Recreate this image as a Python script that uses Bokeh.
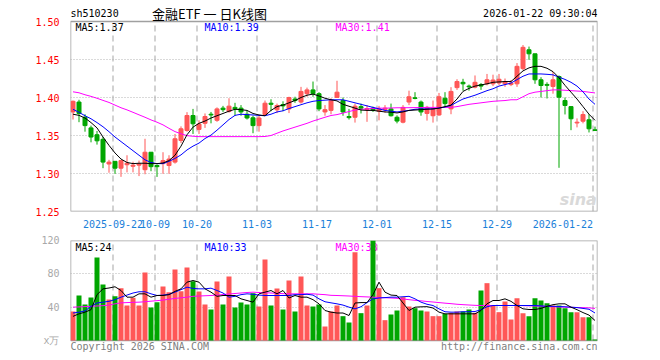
from bokeh.plotting import figure
from bokeh.layouts import column
from bokeh.models import FixedTicker, ColumnDataSource, Range1d, CustomJSTickFormatter, NumeralTickFormatter
from bokeh.embed import file_html
from bokeh.resources import INLINE
from bokeh.core.properties import value

# ---------------- data ----------------
code = "sh510230"
title_text = "金融ETF 一 日K线图"
stamp = "2026-01-22 09:30:04"
copyright_text = "Copyright 2026 SINA.COM"
url_text = "http://finance.sina.com.cn"

opens = [1.381,1.394,1.374,1.360,1.351,1.345,1.3125,1.316,1.307,1.3115,
 1.3095,1.311,1.305,1.328,1.3105,1.313,1.3105,1.315,1.3434,1.3566,
 1.3763,1.358,1.366,1.378,1.370,1.386,1.3816,1.387,1.386,1.378,
 1.3733,1.363,1.3776,1.3925,1.3838,1.3907,1.385,1.398,1.394,1.405,
 1.410,1.405,1.381,1.383,1.400,1.396,1.375,1.374,1.388,1.384,
 1.386,1.382,1.384,1.385,1.374,1.3675,1.394,1.3996,1.394,1.379,
 1.376,1.377,1.399,1.385,1.413,1.420,1.415,1.4136,1.417,1.418,
 1.418,1.419,1.418,1.417,1.418,1.438,1.4628,1.4575,1.4233,1.4172,
 1.4145,1.4276,1.396,1.388,1.3665,1.3688,1.3707,1.3575]
highs = [1.396,1.397,1.378,1.363,1.356,1.348,1.318,1.316,1.318,1.324,
 1.3155,1.317,1.3457,1.328,1.312,1.328,1.324,1.352,1.362,1.3807,
 1.385,1.370,1.379,1.381,1.387,1.389,1.399,1.393,1.390,1.383,
 1.376,1.376,1.396,1.3977,1.392,1.395,1.401,1.401,1.414,1.413,
 1.421,1.407,1.390,1.399,1.422,1.400,1.385,1.392,1.392,1.390,
 1.388,1.389,1.390,1.392,1.3765,1.390,1.409,1.407,1.396,1.389,
 1.396,1.406,1.407,1.4136,1.424,1.4246,1.417,1.429,1.419,1.431,
 1.430,1.431,1.425,1.423,1.4453,1.469,1.467,1.4575,1.4267,1.420,
 1.434,1.429,1.400,1.388,1.3725,1.382,1.378,1.3617]
lows = [1.371,1.3675,1.355,1.341,1.338,1.307,1.301,1.2995,1.2956,1.3015,
 1.3015,1.2966,1.299,1.303,1.2955,1.2996,1.2996,1.313,1.340,1.355,
 1.352,1.352,1.360,1.366,1.368,1.381,1.380,1.376,1.376,1.371,
 1.353,1.355,1.376,1.382,1.3795,1.382,1.3795,1.393,1.392,1.401,
 1.401,1.382,1.376,1.378,1.3996,1.376,1.371,1.367,1.379,1.368,
 1.381,1.370,1.380,1.375,1.366,1.366,1.390,1.3976,1.376,1.3696,
 1.367,1.376,1.387,1.378,1.410,1.409,1.409,1.412,1.410,1.416,
 1.415,1.416,1.414,1.415,1.414,1.436,1.4496,1.418,1.400,1.3987,
 1.405,1.3075,1.3777,1.357,1.3607,1.366,1.354,1.3566]
closes = [1.395,1.379,1.363,1.348,1.343,1.315,1.315,1.307,1.317,1.3135,
 1.311,1.3125,1.328,1.309,1.309,1.317,1.319,1.3457,1.3588,1.3763,
 1.3654,1.365,1.375,1.377,1.385,1.384,1.3886,1.385,1.381,1.373,
 1.363,1.373,1.3925,1.391,1.3895,1.389,1.400,1.396,1.408,1.410,
 1.405,1.385,1.384,1.396,1.407,1.381,1.3735,1.3886,1.386,1.3855,
 1.383,1.385,1.386,1.376,1.369,1.387,1.401,1.3987,1.381,1.387,
 1.385,1.401,1.392,1.408,1.421,1.418,1.414,1.420,1.415,1.4233,
 1.423,1.424,1.421,1.419,1.441,1.466,1.4575,1.4233,1.4158,1.416,
 1.4233,1.4004,1.3895,1.372,1.3675,1.3776,1.3588,1.3566]

ma5 = [1.378,1.3765,1.373,1.367,1.360,1.348,1.337,1.327,1.319,1.3145,
 1.313,1.3135,1.3135,1.313,1.313,1.3138,1.317,1.324,1.336,1.351,
 1.361,1.366,1.369,1.373,1.376,1.379,1.382,1.3845,1.384,1.383,
 1.379,1.377,1.376,1.383,1.388,1.390,1.393,1.396,1.400,1.403,
 1.4045,1.402,1.399,1.397,1.3955,1.391,1.3885,1.386,1.3835,1.383,
 1.383,1.382,1.381,1.3806,1.3797,1.381,1.383,1.3835,1.384,1.3845,
 1.385,1.386,1.388,1.390,1.398,1.408,1.412,1.415,1.4165,1.418,
 1.420,1.4205,1.421,1.421,1.428,1.435,1.439,1.441,1.441,1.4385,
 1.434,1.426,1.416,1.407,1.398,1.388,1.378,1.370]
ma10 = [1.3845,1.3805,1.376,1.372,1.367,1.3615,1.355,1.348,1.342,1.336,
 1.330,1.324,1.318,1.3145,1.313,1.313,1.316,1.3198,1.3245,1.331,
 1.336,1.340,1.346,1.3505,1.357,1.364,1.371,1.3765,1.378,1.3775,
 1.377,1.3765,1.376,1.378,1.381,1.3825,1.3855,1.388,1.3905,1.393,
 1.395,1.396,1.3965,1.397,1.397,1.397,1.395,1.393,1.391,1.389,
 1.387,1.385,1.383,1.382,1.381,1.382,1.383,1.3845,1.385,1.385,
 1.385,1.386,1.3875,1.3895,1.394,1.398,1.4005,1.403,1.406,1.409,
 1.4115,1.415,1.417,1.419,1.4235,1.428,1.431,1.431,1.431,1.4305,
 1.4298,1.4268,1.4238,1.420,1.415,1.4075,1.398,1.391]
ma30 = [1.4075,1.4062,1.4036,1.4015,1.399,1.3962,1.3935,1.390,1.3865,1.3837,
 1.3805,1.3772,1.374,1.3705,1.3675,1.364,1.3594,1.3551,1.3523,1.3498,
 1.349,1.3485,1.3485,1.3485,1.3485,1.3485,1.3485,1.3485,1.3485,1.3485,
 1.3485,1.3485,1.3487,1.350,1.353,1.356,1.3585,1.361,1.3635,1.366,
 1.369,1.3715,1.374,1.3763,1.3775,1.3795,1.3815,1.3835,1.3845,1.385,
 1.3855,1.386,1.386,1.3862,1.3865,1.3865,1.3866,1.3867,1.3868,1.387,
 1.387,1.387,1.387,1.387,1.388,1.3895,1.391,1.392,1.393,1.394,
 1.395,1.3955,1.396,1.397,1.397,1.401,1.405,1.407,1.408,1.409,
 1.410,1.410,1.4095,1.409,1.4085,1.408,1.407,1.406]

volumes = [34.8,54,43.2,51.6,99.6,67.2,49.2,53.2,62.8,42,
 51.2,42,81.6,39.6,46,64.8,58,85.2,59.2,87.6,
 71.2,58.8,43.2,37.2,70.8,43.2,76.8,39.6,45.6,43.2,
 56.8,40.8,97.2,42,62.4,37.2,72,34.8,76.8,42,
 40.8,43.2,16.8,34.8,42,29.2,21.6,106,32.8,42,
 124,62.8,24.4,31.2,36,52,40.8,38.8,36,34.8,
 29.2,29.2,32,33.2,34.8,34.8,37.2,33.2,60,68.8,
 42,34,46.8,25.2,50.8,32.8,29.2,50.8,48,44.8,
 42,42,38.8,34,34,28,28,1.2]
vma5 = [29,32,34,37,55,62,63,64.5,60,52,
 52,56,56,52,54,54,55,59,62,70,
 72,70,62,58,53,54,54,54,50,48,
 46,56,58,60,56,60,51,54,52,52,
 49,44,36,34,33,33,30,45,45.5,45.5,
 55,70,58,54.5,54,45,36,40,40.4,40.6,
 39,34,32,32,32,32,32,32,36,44,
 48,48,50,47,42,38,37.2,37.2,38.5,41,
 43,44,44,40,37,33.5,30.5,24]
vma10 = [33,34,35.5,41,45,46,47,49,52,54.5,
 57,58.5,58.5,56,54,54.5,55.5,58,61,64,
 62.5,62,62,62.8,60,57,52,53,55,56,
 55.5,54.5,54,54,54,54,54,55,55,55.5,
 54.5,50,46.5,45.2,44,42.5,40,38,40.5,45.5,
 50,51,51.5,52,52,52.5,53,50,46,43.5,
 42,38,34.5,34,34,34.5,34.5,34.8,37,40.5,
 42,42,42,42,42,42,42,42,41.5,41,
 41,40.8,40.5,40,39.5,38.5,37.5,33]
vma30 = [40,40.3,40.7,41,41.4,41.8,42.5,44,45.2,45.5,
 45.8,46,46.5,47.2,47.8,48.5,49.5,50.5,51.2,52,
 53,53.4,53.7,54,54.5,55.2,55.8,56.4,57,57.6,
 58,57.6,57.2,57,56.6,56.2,56,56,56,56,
 56,55.5,55,54.2,54,53.7,53.4,53,52.6,52.3,
 52,51.6,51.3,51,50.6,49.8,49,48.2,47.6,46.8,
 46.2,45.5,44.8,44.2,43.5,43,42.6,42.2,42,42,
 42,42,42,42,42,41.8,41.6,41.4,41.2,41,
 40.6,40.2,40,39.8,39.6,39.4,39.2,38.5]

date_ticks = [7, 14, 21, 31, 41, 51, 61, 71, 87]
date_labels = ["2025-09-22", "10-09", "10-20", "11-03", "11-17", "12-01", "12-15", "12-29", "2026-01-22"]
price_ticks = [1.25, 1.30, 1.35, 1.40, 1.45, 1.50]
price_grid = [1.30, 1.35, 1.40, 1.45]
vol_ticks = [0, 40, 80, 120]
vol_grid = [40, 80]
vol_unit_label = "x万"

# ---------------- style / layout ----------------
RED = "#ff5757"
GREEN = "#00a600"
GRID = "#b4b4b4"
BORDER = "#a0a0a0"
MONO = "DejaVu Sans Mono"
FS = "10px"

PX = 6.0                  # pixels per trading day
FRAME_W = 527
LEFT, RIGHT = 70, 63
W = LEFT + FRAME_W + RIGHT
x0 = -2.5 / PX
x1 = x0 + FRAME_W / PX

PLO, PHI = 1.25, 1.50
ppy = (PHI - PLO) / 190.0     # price units per pixel
HEAD = 21                     # pixels above the price box (header strip)
P_FH = 190 + HEAD
P_BOT = 21

VLO, VHI = 0, 120
vpy = (VHI - VLO) / 100.0     # volume units per pixel
FOOT = 20                     # pixels below the volume box (footer strip)
V_TOP = 8
V_FH = 100 + FOOT

n = len(closes)
idx = list(range(n))
colors = [RED if c >= o else GREEN for o, c in zip(opens, closes)]
grid_x = [t - 1.0 / 3.0 for t in date_ticks]
label_x = list(grid_x)
label_x[-1] = grid_x[-1] - (len(date_labels[-1]) * 6.02 / 2) / PX


def base_fig(height, top, bottom, yr, ylo, yhi):
    f = figure(width=W, height=height, x_range=Range1d(x0, x1), y_range=yr,
               output_backend="svg", toolbar_location=None,
               min_border_left=LEFT, min_border_right=RIGHT,
               min_border_top=top, min_border_bottom=bottom)
    f.outline_line_color = None
    f.background_fill_color = "white"
    f.border_fill_color = "white"
    f.xgrid.visible = False
    f.ygrid.grid_line_color = GRID
    f.ygrid.grid_line_dash = "1 2"
    f.yaxis.axis_line_color = None
    f.yaxis.major_tick_line_color = None
    f.yaxis.minor_tick_line_color = None
    f.yaxis.major_label_text_font = MONO
    f.yaxis.major_label_text_font_size = FS
    f.yaxis.major_label_standoff = 5
    # vertical dashed date lines
    f.segment(x0=grid_x, y0=[ylo] * len(grid_x), x1=grid_x, y1=[yhi] * len(grid_x),
              line_color=GRID, line_dash="6 4", line_width=1.2)
    # box border
    f.quad(left=[x0], right=[x1], bottom=[ylo], top=[yhi], fill_color=None,
           line_color=BORDER, line_width=1.5)
    return f


# ---------------- price panel ----------------
p1 = base_fig(P_FH + P_BOT, 0, P_BOT, Range1d(PLO, PHI + HEAD * ppy), PLO, PHI)
p1.ygrid.ticker = FixedTicker(ticks=price_grid)
p1.yaxis.ticker = FixedTicker(ticks=price_ticks)
p1.yaxis.formatter = NumeralTickFormatter(format="0.00")
p1.yaxis.major_label_text_color = "#ff0000"
p1.xaxis.ticker = FixedTicker(ticks=label_x)
p1.xaxis.formatter = CustomJSTickFormatter(args=dict(pos=label_x, labels=date_labels), code="""
let k = 0, d = 1e9;
for (let j = 0; j < pos.length; j++) { const dd = Math.abs(pos[j] - tick); if (dd < d) { d = dd; k = j; } }
return labels[k];
""")
p1.xaxis.axis_line_color = None
p1.xaxis.major_tick_line_color = None
p1.xaxis.minor_tick_line_color = None
p1.xaxis.major_label_text_font = MONO
p1.xaxis.major_label_text_font_size = FS
p1.xaxis.major_label_text_color = "#1a80d9"
p1.xaxis.major_label_standoff = 2

src = ColumnDataSource(dict(x=idx, o=opens, h=highs, l=lows, c=closes,
                            top=[max(o, c) for o, c in zip(opens, closes)],
                            bot=[min(o, c) for o, c in zip(opens, closes)],
                            color=colors, vol=volumes))

# sina watermark
p1.text(x=[x1 - 0.1], y=[PLO + 12 * ppy], text=["sina"], text_align="right", text_baseline="middle",
        text_font=value("DejaVu Sans"), text_font_size=value("16px"), text_font_style="bold italic",
        text_color="#d9d9d9")

p1.segment(x0="x", y0="l", x1="x", y1="h", color="color", line_width=1, source=src)
p1.vbar(x="x", width=4 / PX, top="top", bottom="bot", fill_color="color", line_color="color",
        line_width=1, source=src)
p1.line(idx, ma30, color="#ff00ff", line_width=1)
p1.line(idx, ma10, color="#0000ff", line_width=1)
p1.line(idx, ma5, color="#000000", line_width=1)

lab_y = PHI - 5.5 * ppy
p1.text(x=[x0 + 5 / PX, x0 + 134 / PX, x0 + 265 / PX], y=[lab_y] * 3,
        text=[f"MA5:{ma5[-1]:.2f}", f"MA10:{ma10[-1]:.2f}", f"MA30:{ma30[-1]:.2f}"],
        text_color=["#000000", "#0000ff", "#ff00ff"], text_baseline="middle",
        text_font=value(MONO), text_font_size=value(FS))

# header strip
hdr_y = PHI + 8.5 * ppy
p1.text(x=[x0], y=[hdr_y], text=[code], text_baseline="middle",
        text_font=value(MONO), text_font_size=value(FS), text_color="#000000")
p1.text(x=[x0 + 139 / PX], y=[hdr_y], text=[title_text], text_align="center", text_baseline="middle",
        text_font=value("Noto Sans CJK SC"), text_font_size=value("13px"), text_color="#000000")
p1.text(x=[x1], y=[hdr_y], text=[stamp], text_align="right", text_baseline="middle",
        text_font=value(MONO), text_font_size=value(FS), text_color="#000000")

# ---------------- volume panel ----------------
p2 = base_fig(V_TOP + V_FH, V_TOP, 0, Range1d(VLO - FOOT * vpy, VHI), VLO, VHI)
p2.ygrid.ticker = FixedTicker(ticks=vol_grid)
p2.yaxis.ticker = FixedTicker(ticks=vol_ticks)
p2.yaxis.major_label_overrides = {0: vol_unit_label}
p2.yaxis.major_label_text_color = "#a8a8a8"
p2.xaxis.visible = False

vlab_y = VHI - 6.5 * vpy
p2.text(x=[x0 + 5 / PX, x0 + 134 / PX, x0 + 265 / PX], y=[vlab_y] * 3,
        text=[f"MA5:{vma5[-1]:.0f}", f"MA10:{vma10[-1]:.0f}", f"MA30:{vma30[-1]:.0f}"],
        text_color=["#000000", "#0000ff", "#ff00ff"], text_baseline="middle",
        text_font=value(MONO), text_font_size=value(FS))
p2.vbar(x="x", width=5 / PX, top="vol", bottom=0, fill_color="color", line_color=None, source=src)
p2.line(idx, vma30, color="#ff00ff", line_width=1)
p2.line(idx, vma10, color="#0000ff", line_width=1)
p2.line(idx, vma5, color="#000000", line_width=1)

foot_y = VLO - 5.5 * vpy
p2.text(x=[x0], y=[foot_y], text=[copyright_text], text_baseline="middle",
        text_font=value(MONO), text_font_size=value(FS), text_color="#808080")
p2.text(x=[x1], y=[foot_y], text=[url_text], text_align="right", text_baseline="middle",
        text_font=value(MONO), text_font_size=value(FS), text_color="#808080")

layout = column(p1, p2, spacing=0)
open("out.html", "w").write(file_html(layout, INLINE))
